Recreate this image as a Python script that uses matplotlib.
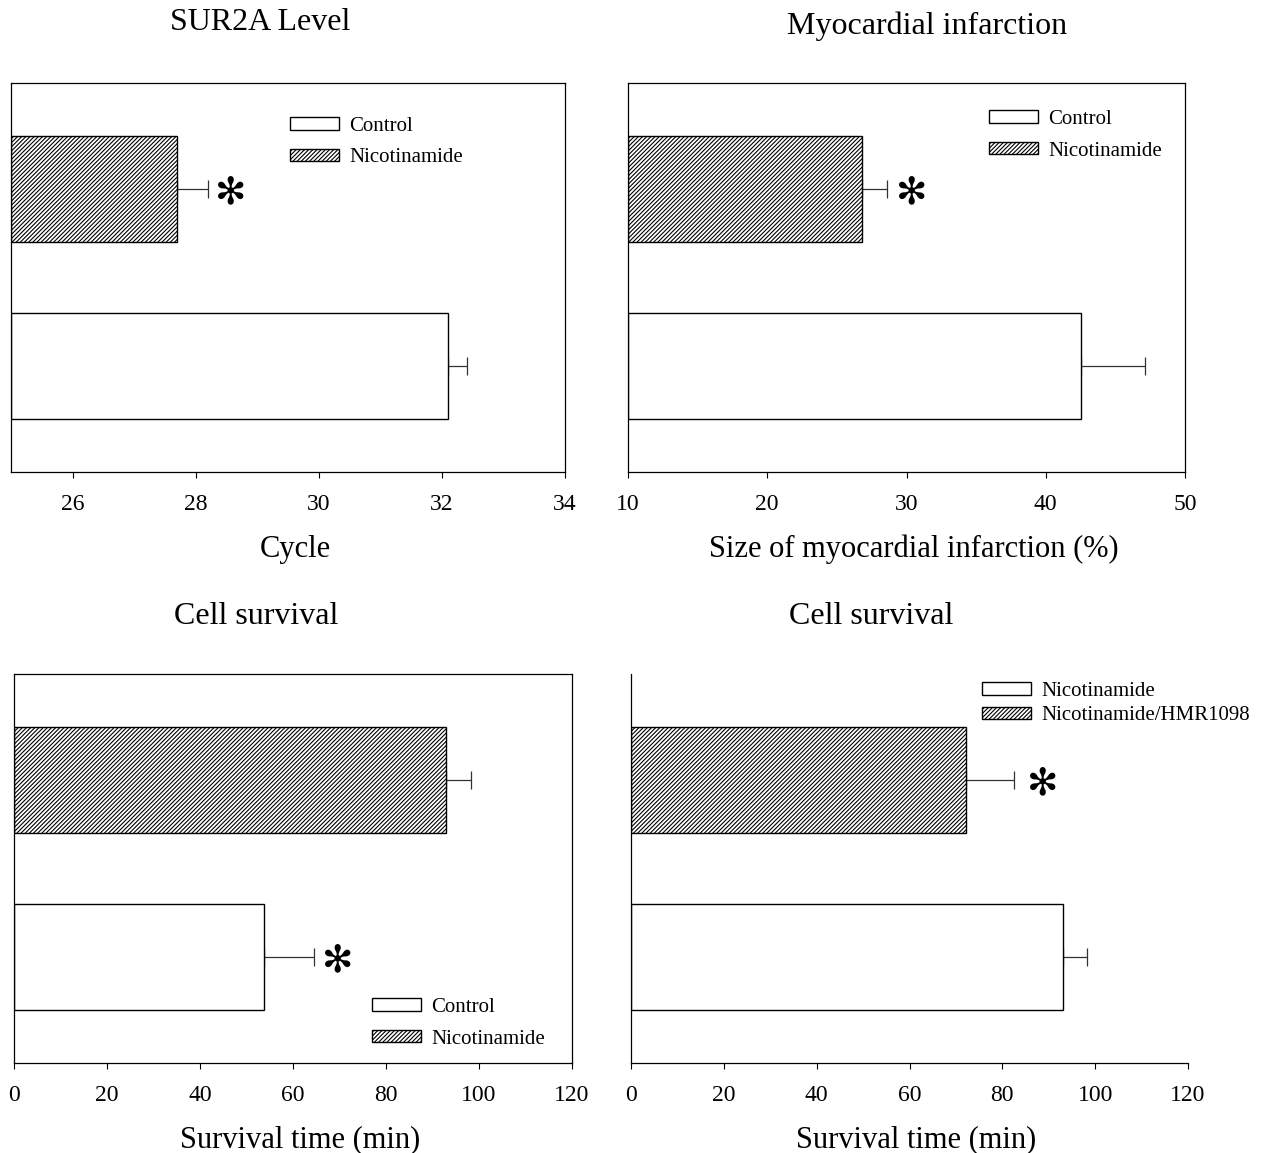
import matplotlib
matplotlib.use("Agg")
import matplotlib.pyplot as plt
import numpy as np

plt.rcParams["font.family"] = ["Liberation Serif", "DejaVu Serif"]
plt.rcParams["hatch.linewidth"] = 0.8

# values (bottom bar first, top bar second)
sur2a_groups = ["Control", "Nicotinamide"]
sur2a_cycle = [32.1, 27.7]
sur2a_err = [0.3, 0.5]

infarct_groups = ["Control", "Nicotinamide"]
infarct_size = [42.5, 26.8]
infarct_err = [4.6, 1.8]

survival_groups = ["Control", "Nicotinamide"]
survival_time = [53.8, 93.0]
survival_err = [10.7, 5.2]

block_groups = ["Nicotinamide", "Nicotinamide/HMR1098"]
block_time = [93.0, 72.1]
block_err = [5.3, 10.4]

W, H = 1262, 1153
HATCHES = ["", "////////"]


def px_rect(left, top, right, bottom):
    return [left / W, 1 - bottom / H, (right - left) / W, (bottom - top) / H]


def panel(fig, rect, groups, values, errs, xlim, xticks, star_idx, star_off,
          legend_xy, legend_spacing, xlabel, box=True):
    ax = fig.add_axes(px_rect(*rect))
    y = np.arange(len(groups))
    for i in range(len(groups)):
        ax.barh(y[i], values[i] - xlim[0], left=xlim[0], height=0.6,
                color="white", edgecolor="black", hatch=HATCHES[i],
                linewidth=1.0, label=groups[i], zorder=2)
        ax.errorbar(values[i], y[i], xerr=[[0], [errs[i]]], fmt="none",
                    ecolor="#333333", elinewidth=0.9, capsize=6.5,
                    capthick=0.9, zorder=1)
    # significance mark
    i = star_idx
    ax.annotate("\u273b", xy=(values[i] + errs[i], y[i]),
                xytext=(star_off, -3), textcoords="offset points",
                ha="center", va="center", fontsize=27,
                family=["DejaVu Sans"])

    ax.set_xlim(*xlim)
    ax.set_ylim(-0.6, 1.6)
    ax.set_xticks(xticks)
    ax.set_yticks([])
    ax.tick_params(axis="x", direction="out", length=4, width=0.8,
                   labelsize=17, pad=12)
    for side in ["left", "bottom", "top", "right"]:
        ax.spines[side].set_linewidth(0.9)
    if not box:
        ax.spines["top"].set_visible(False)
        ax.spines["right"].set_visible(False)
    ax.set_xlabel(xlabel, fontsize=22, labelpad=14)
    # label sits a little right of the axes centre in the original
    width_px = rect[2] - rect[0]
    ax.xaxis.label.set_x(0.5 + 7 / width_px)

    ax.legend(loc="upper left",
              bbox_to_anchor=(legend_xy[0] / W, 1 - legend_xy[1] / H),
              bbox_transform=fig.transFigure, frameon=False, fontsize=15,
              handlelength=2.35, handleheight=0.55, handletextpad=0.5,
              labelspacing=legend_spacing, borderpad=0, borderaxespad=0)
    return ax


fig = plt.figure(figsize=(W / 100, H / 100), dpi=100)

panel(fig, (11, 83, 565, 472), sur2a_groups, sur2a_cycle, sur2a_err,
      (25, 34), [26, 28, 30, 32, 34], 1, 16, (290, 117), 0.6, "Cycle")
panel(fig, (628, 83, 1185, 472), infarct_groups, infarct_size, infarct_err,
      (10, 50), [10, 20, 30, 40, 50], 1, 18, (989, 110), 0.6,
      "Size of myocardial infarction (%)")
panel(fig, (14, 674, 572, 1063), survival_groups, survival_time, survival_err,
      (0, 120), [0, 20, 40, 60, 80, 100, 120], 0, 17, (372, 998), 0.6,
      "Survival time (min)")
panel(fig, (631, 674, 1188, 1063), block_groups, block_time, block_err,
      (0, 120), [0, 20, 40, 60, 80, 100, 120], 1, 21, (982, 682), 0.25,
      "Survival time (min)", box=False)

titles = ["SUR2A Level", "Myocardial infarction", "Cell survival", "Cell survival"]
title_x = [260, 927, 256, 871]
title_y = [23, 26, 616, 616]
for t, x, yy in zip(titles, title_x, title_y):
    fig.text(x / W, 1 - yy / H, t, ha="center", va="center", fontsize=23)

fig.savefig("out.png", dpi=100)
